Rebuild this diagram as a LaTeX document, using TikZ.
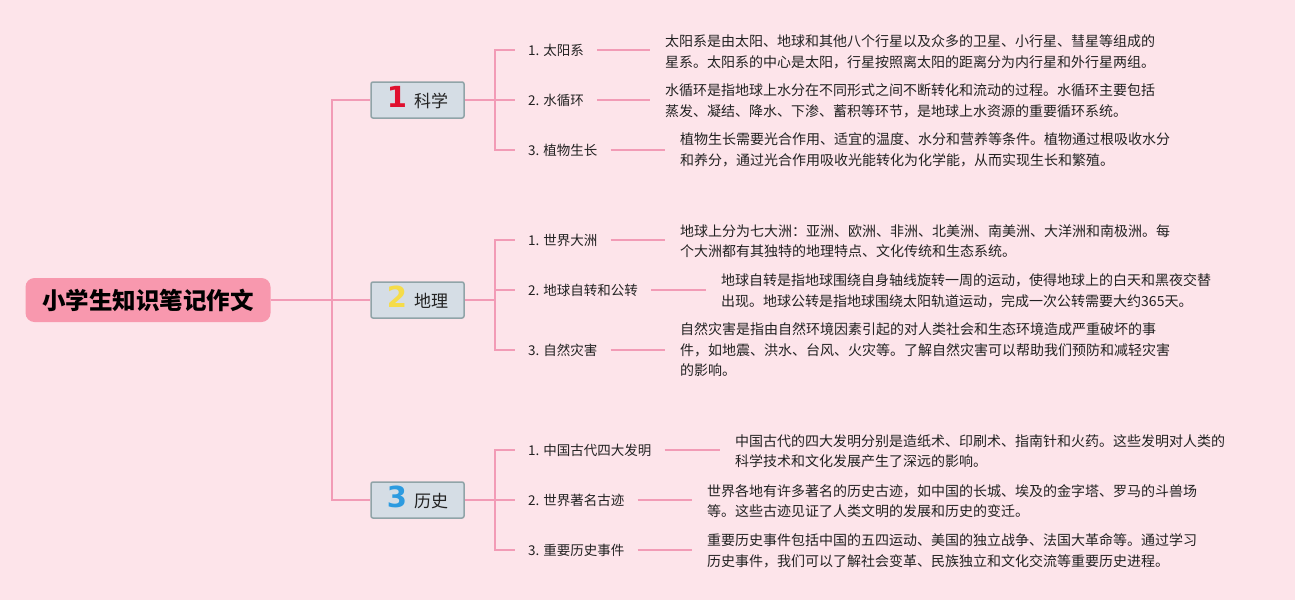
\documentclass[tikz,border=0pt]{standalone}
\usepackage{fontspec}
\setmainfont{Noto Sans CJK SC}
\newfontfamily\numfont{DejaVu Sans}
\definecolor{bg}{HTML}{FDE4EA}
\definecolor{linkc}{HTML}{F29BB6}
\definecolor{rootc}{HTML}{F898AE}
\definecolor{catfill}{HTML}{D5DDE5}
\definecolor{catdraw}{HTML}{90A4A8}
\definecolor{txtc}{HTML}{222222}
\definecolor{nred}{HTML}{E0102F}
\definecolor{nyellow}{HTML}{F5DC4A}
\definecolor{nblue}{HTML}{2D9BE0}
\tikzset{
  rootbox/.style={fill=rootc, rounded corners=9pt, minimum width=245pt, minimum height=44pt, inner sep=0pt,
    font=\bfseries\fontsize{23.5}{26}\selectfont, text=black},
  catbox/.style={fill=catfill, draw=catdraw, line width=1.5pt, rounded corners=2pt, minimum width=93pt, minimum height=36pt, inner sep=0pt,
    text height=18pt, text depth=3pt, font=\fontsize{17}{20}\selectfont, text=txtc},
  sublabel/.style={anchor=west, inner xsep=13pt, inner ysep=2pt, font=\fontsize{13.5}{18}\selectfont, text=txtc},
  desc/.style={anchor=west, inner xsep=15pt, inner ysep=0pt, align=left, font=\fontsize{14}{20.5}\selectfont, text=txtc},
  link/.style={draw=linkc, line width=1.6pt},
}
\newcommand{\catnum}[2]{{\numfont\bfseries\fontsize{29}{30}\selectfont\color{#1}#2}\hspace{7pt}}
\begin{document}
\begin{tikzpicture}[x=1pt,y=-1pt]
\fill[bg] (0,0) rectangle (1295,600);
\useasboundingbox (0,0) rectangle (1295,600);

\node[rootbox] (root) at (148,300) {小学生知识笔记作文};

\node[catbox] (c1) at (417.5,100) {\catnum{nred}{1}科学};
\node[catbox] (c2) at (417.5,300) {\catnum{nyellow}{2}地理};
\node[catbox] (c3) at (417.5,500) {\catnum{nblue}{3}历史};

% science
\node[sublabel] (s1) at (515,50) {1. 太阳系};
\node[sublabel] (s2) at (515,100) {2. 水循环};
\node[sublabel] (s3) at (515,150) {3. 植物生长};
\node[desc] (d1) at (650,52) {太阳系是由太阳、地球和其他八个行星以及众多的卫星、小行星、彗星等组成的\\星系。太阳系的中心是太阳，行星按照离太阳的距离分为内行星和外行星两组。};
\node[desc] (d2) at (650,101) {水循环是指地球上水分在不同形式之间不断转化和流动的过程。水循环主要包括\\蒸发、凝结、降水、下渗、蓄积等环节，是地球上水资源的重要循环系统。};
\node[desc] (d3) at (665,150) {植物生长需要光合作用、适宜的温度、水分和营养等条件。植物通过根吸收水分\\和养分，通过光合作用吸收光能转化为化学能，从而实现生长和繁殖。};

% geography
\node[sublabel] (g1) at (515,240) {1. 世界大洲};
\node[sublabel] (g2) at (515,290) {2. 地球自转和公转};
\node[sublabel] (g3) at (515,350) {3. 自然灾害};
\node[desc] (e1) at (665,241) {地球上分为七大洲：亚洲、欧洲、非洲、北美洲、南美洲、大洋洲和南极洲。每\\个大洲都有其独特的地理特点、文化传统和生态系统。};
\node[desc] (e2) at (706,291) {地球自转是指地球围绕自身轴线旋转一周的运动，使得地球上的白天和黑夜交替\\出现。地球公转是指地球围绕太阳轨道运动，完成一次公转需要大约365天。};
\node[desc] (e3) at (665,350) {自然灾害是指由自然环境因素引起的对人类社会和生态环境造成严重破坏的事\\件，如地震、洪水、台风、火灾等。了解自然灾害可以帮助我们预防和减轻灾害\\的影响。};

% history
\node[sublabel] (h1) at (515,450) {1. 中国古代四大发明};
\node[sublabel] (h2) at (515,500) {2. 世界著名古迹};
\node[sublabel] (h3) at (515,550) {3. 重要历史事件};
\node[desc] (f1) at (720,451) {中国古代的四大发明分别是造纸术、印刷术、指南针和火药。这些发明对人类的\\科学技术和文化发展产生了深远的影响。};
\node[desc] (f2) at (692,501) {世界各地有许多著名的历史古迹，如中国的长城、埃及的金字塔、罗马的斗兽场\\等。这些古迹见证了人类文明的发展和历史的变迁。};
\node[desc] (f3) at (692,551) {重要历史事件包括中国的五四运动、美国的独立战争、法国大革命等。通过学习\\历史事件，我们可以了解社会变革、民族独立和文化交流等重要历史进程。};

% root to categories
\foreach \c in {c1,c2,c3}
  \draw[link] (root.east) -- ++(61,0) |- (\c.west);
% categories to sub-labels
\foreach \s in {s1,s2,s3}
  \draw[link] (c1.east) -- ++(30,0) |- (\s.west);
\foreach \s in {g1,g2,g3}
  \draw[link] (c2.east) -- ++(30,0) |- (\s.west);
\foreach \s in {h1,h2,h3}
  \draw[link] (c3.east) -- ++(30,0) |- (\s.west);
% sub-labels to descriptions
\foreach \a/\b in {s1/d1,s2/d2,s3/d3,g1/e1,g2/e2,g3/e3,h1/f1,h2/f2,h3/f3}
  \draw[link] (\a.east) -- (\a.east -| \b.west);
\end{tikzpicture}
\end{document}
